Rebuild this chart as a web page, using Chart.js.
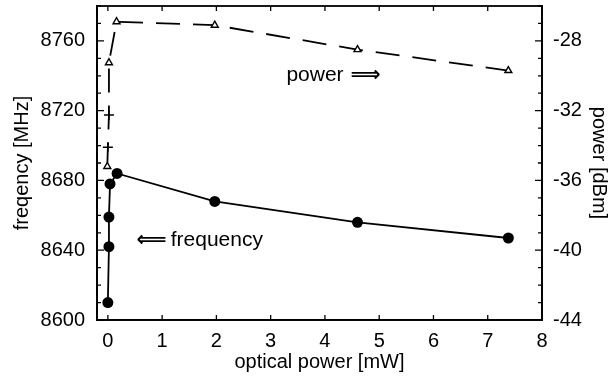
<!DOCTYPE html>
<html><head><meta charset="utf-8">
<script src="https://cdn.jsdelivr.net/npm/chart.js@4/dist/chart.umd.min.js"></script>
<style>html,body{margin:0;padding:0;background:#fff}#wrap{width:611px;height:376px}</style>
</head><body><div id="wrap"><canvas id="c" width="611" height="376"></canvas></div>
<script>
const freqX = [0, 0.02, 0.02, 0.04, 0.17, 1.97, 4.60, 7.38];
const freqMHz = [8610, 8642, 8659, 8678, 8684, 8668, 8656, 8647];
const powerX = [-0.01, 0.0, 0.02, 0.02, 0.16, 1.97, 4.60, 7.38];
const powerDBm = [-35.2, -34.1, -32.25, -29.25, -26.9, -27.1, -28.5, -29.7];
const xTicks = [0, 1, 2, 3, 4, 5, 6, 7, 8];
const freqTicks = [8600, 8640, 8680, 8720, 8760];
const powerTicks = [-44, -40, -36, -32, -28];

const FONT = "'Liberation Sans', Arial, sans-serif";
const pts = (xs, ys) => xs.map((x, i) => ({x, y: ys[i]}));
const plain = v => String(v);
const noPad = s => { s.paddingTop = 0; s.paddingBottom = 0; s.paddingLeft = 0; s.paddingRight = 0; };

const frame = {
  id: 'frame',
  afterDraw(chart) {
    const ctx = chart.ctx, a = chart.chartArea;
    const sx = chart.scales.x, sy = chart.scales.y, sy1 = chart.scales.y1;
    ctx.save();
    ctx.strokeStyle = '#000';
    ctx.lineWidth = 1.8;
    ctx.strokeRect(a.left, a.top, a.right - a.left, a.bottom - a.top);
    ctx.lineWidth = 1.3;
    ctx.beginPath();
    xTicks.forEach(v => {
      const p = sx.getPixelForValue(v);
      ctx.moveTo(p, a.bottom); ctx.lineTo(p, a.bottom - 5);
      ctx.moveTo(p, a.top); ctx.lineTo(p, a.top + 5);
    });
    for (let v = 8600; v <= 8780; v += 10) {
      const p = sy.getPixelForValue(v);
      const len = (v % 40 === 0) ? 7 : 4;
      ctx.moveTo(a.left, p); ctx.lineTo(a.left + len, p);
    }
    for (let v = -44; v <= -26; v += 1) {
      const p = sy1.getPixelForValue(v);
      const len = (v % 4 === 0) ? 7 : 4;
      ctx.moveTo(a.right, p); ctx.lineTo(a.right - len, p);
    }
    ctx.stroke();
    ctx.fillStyle = '#000';
    ctx.textBaseline = 'middle';
    ctx.textAlign = 'left';
    const arrowFont = "bold 21px 'DejaVu Sans', sans-serif";
    const textFont = "21px " + FONT;
    // power =>
    let px = sx.getPixelForValue(3.29), py = sy.getPixelForValue(8740.5);
    ctx.font = textFont;
    ctx.fillText('power', px, py);
    px += ctx.measureText('power').width + 7;
    ctx.font = arrowFont;
    ctx.fillText('\u27F9', px, py + 1);
    // <= frequency
    px = sx.getPixelForValue(0.53); py = sy.getPixelForValue(8645.9);
    ctx.font = arrowFont;
    ctx.fillText('\u27F8', px, py + 1);
    px += ctx.measureText('\u27F8').width + 4;
    ctx.font = textFont;
    ctx.fillText('frequency', px, py);
    ctx.restore();
  }
};

new Chart(document.getElementById('c'), {
  type: 'scatter',
  data: {
    datasets: [
      {
        label: 'frequency',
        data: pts(freqX, freqMHz),
        yAxisID: 'y',
        showLine: true,
        borderColor: '#000',
        borderWidth: 1.8,
        backgroundColor: '#000',
        pointStyle: 'circle',
        pointRadius: 5.5,
        pointBorderWidth: 0,
        pointBackgroundColor: '#000'
      },
      {
        label: 'power',
        data: pts(powerX, powerDBm),
        yAxisID: 'y1',
        showLine: true,
        borderColor: '#000',
        borderWidth: 1.8,
        borderDash: [24, 13],
        pointStyle: ['triangle', 'cross', 'cross', 'triangle', 'triangle', 'triangle', 'triangle', 'triangle'],
        pointRadius: [4, 5, 5, 4, 4, 4, 4, 4],
        pointBorderWidth: 1.4,
        pointBorderColor: '#000',
        pointBackgroundColor: '#fff'
      }
    ]
  },
  options: {
    responsive: false,
    animation: false,
    devicePixelRatio: 1,
    layout: { padding: { top: 6, left: 0, right: 0, bottom: 0 } },
    plugins: { legend: { display: false }, tooltip: { enabled: false } },
    scales: {
      x: {
        type: 'linear', position: 'bottom', min: -0.2, max: 8,
        afterBuildTicks: s => { s.ticks = xTicks.map(v => ({value: v})); },
        afterFit: s => { s.height = 56; noPad(s); },
        grid: { display: false, drawTicks: false },
        border: { display: true, color: '#000', width: 1.8 },
        ticks: { color: '#000', font: { family: FONT, size: 20 }, padding: 9, maxRotation: 0, callback: plain },
        title: { display: true, text: 'optical power [mW]', color: '#000', font: { family: FONT, size: 20 }, padding: { top: 0, bottom: 2 } }
      },
      y: {
        type: 'linear', position: 'left', min: 8600, max: 8780,
        afterBuildTicks: s => { s.ticks = freqTicks.map(v => ({value: v})); },
        afterFit: s => { s.width = 97; noPad(s); },
        grid: { display: false, drawTicks: false },
        border: { display: true, color: '#000', width: 1.8 },
        ticks: { color: '#000', font: { family: FONT, size: 20 }, padding: 12, callback: plain },
        title: { display: true, text: 'freqency [MHz]', color: '#000', font: { family: FONT, size: 20 }, padding: { top: 10, bottom: 0 } }
      },
      y1: {
        type: 'linear', position: 'right', min: -44, max: -26,
        afterBuildTicks: s => { s.ticks = powerTicks.map(v => ({value: v})); },
        afterFit: s => { s.width = 69; noPad(s); },
        grid: { display: false, drawTicks: false },
        border: { display: true, color: '#000', width: 1.8 },
        ticks: { color: '#000', font: { family: FONT, size: 20 }, padding: 11, callback: plain },
        title: { display: true, text: 'power [dBm]', color: '#000', font: { family: FONT, size: 20 }, padding: { top: 0, bottom: 0 } }
      }
    }
  },
  plugins: [frame]
});
</script></body></html>
